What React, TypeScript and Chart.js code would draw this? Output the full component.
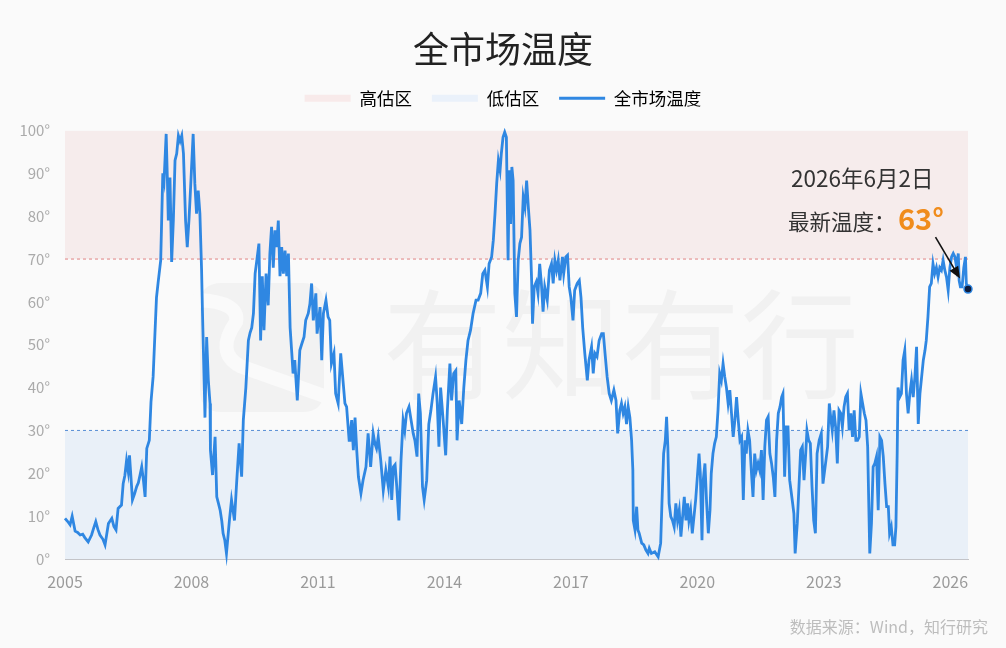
import React, { useEffect, useRef } from 'react';
import { Chart, registerables } from 'chart.js';

Chart.register(...registerables);

const FONT = '"Noto Sans CJK SC", "Noto Sans", sans-serif';

// ---------- text ----------
const chartTitle = '全市场温度';
const seriesName = '全市场温度';
const highZoneName = '高估区';
const lowZoneName = '低估区';
const latestDateLabel = '2026年6月2日';
const latestPrefix = '最新温度：';
const sourceNote = '数据来源：Wind，知行研究';
const watermarkText = '有知有行';

// ---------- scales ----------
const xTickYears = [2005, 2008, 2011, 2014, 2017, 2020, 2023, 2026];
const yTickStep = 10;
const yRange = [0, 100];
const highZone = [70, 100];
const lowZone = [0, 30];

// ---------- series: [decimal year, temperature °] ----------
const temp2005to2008: [number, number][] = [
  [2005.0, 9.5], [2005.06, 8.8], [2005.12, 8], [2005.17, 10], [2005.24, 6.5], [2005.3, 6.2],
  [2005.36, 5.6], [2005.42, 5.8], [2005.47, 5], [2005.55, 4], [2005.63, 5.6], [2005.68, 7.2],
  [2005.73, 8.7], [2005.78, 6.9], [2005.83, 5.6], [2005.9, 4.6], [2005.95, 3.3], [2006.03, 8.3],
  [2006.11, 9.5], [2006.16, 7.6], [2006.21, 6.8], [2006.26, 11.8], [2006.34, 12.6], [2006.38, 17.6],
  [2006.42, 19.5], [2006.46, 23], [2006.5, 20.4], [2006.53, 24.2], [2006.57, 18.3], [2006.6, 13.8],
  [2006.65, 15.2], [2006.7, 16.9], [2006.74, 17.8], [2006.78, 19.6], [2006.82, 21.5], [2006.86, 18.4],
  [2006.9, 14.5], [2006.94, 25.8], [2007.0, 27.7], [2007.04, 36.7], [2007.09, 42.5], [2007.13, 51.8],
  [2007.17, 61], [2007.21, 64.6], [2007.27, 69.7], [2007.32, 90], [2007.35, 88.3], [2007.4, 99.2],
  [2007.43, 88], [2007.45, 79], [2007.49, 89], [2007.53, 69.3], [2007.57, 79], [2007.61, 93],
  [2007.65, 94.6], [2007.69, 98.8], [2007.73, 97.5], [2007.77, 98.8], [2007.81, 94.6], [2007.86, 79],
  [2007.9, 72.8], [2007.94, 79], [2007.98, 86.8], [2008.04, 99.2],
];

const temp2008to2011: [number, number][] = [
  [2008.08, 87.6], [2008.12, 80.6], [2008.16, 86], [2008.2, 80.6], [2008.24, 67.4], [2008.26, 58],
  [2008.3, 41.7], [2008.32, 33], [2008.36, 51.8], [2008.4, 41.7], [2008.44, 36.3], [2008.45, 25.4],
  [2008.5, 19.6], [2008.56, 28.5], [2008.6, 14.5], [2008.64, 13], [2008.68, 11.4], [2008.72, 8.8],
  [2008.75, 6], [2008.79, 4.4], [2008.83, 1.3], [2008.9, 9], [2008.95, 13.8], [2009.02, 9],
  [2009.07, 17.6], [2009.13, 27], [2009.19, 19.2], [2009.23, 32.4], [2009.29, 40], [2009.35, 51],
  [2009.39, 52.8], [2009.43, 54], [2009.47, 57.3], [2009.51, 66.6], [2009.55, 69.7], [2009.6, 73.6],
  [2009.64, 51], [2009.68, 66], [2009.72, 53.4], [2009.77, 66.6], [2009.82, 59.2], [2009.86, 71.3],
  [2009.9, 77.5], [2009.94, 68], [2009.98, 76.7], [2010.02, 72.8], [2010.06, 79], [2010.1, 66],
  [2010.14, 72.8], [2010.18, 66.6], [2010.22, 72], [2010.26, 66], [2010.3, 71.3], [2010.34, 54],
  [2010.38, 48], [2010.41, 43.3], [2010.45, 46.4], [2010.51, 37], [2010.57, 48.7], [2010.61, 50],
  [2010.67, 51.8], [2010.71, 55.7], [2010.77, 57.3], [2010.81, 59.6], [2010.85, 64.3], [2010.89, 55.7],
  [2010.95, 62], [2010.98, 52.6], [2011.05, 58.8], [2011.09, 46.4], [2011.13, 57.3], [2011.19, 60.4],
  [2011.24, 56.5], [2011.28, 55.7], [2011.32, 45.6], [2011.38, 48], [2011.42, 38.6], [2011.48, 36.3],
  [2011.54, 48], [2011.58, 43.3], [2011.64, 36.3], [2011.68, 35.5], [2011.74, 27.7],
];

const temp2011to2015: [number, number][] = [
  [2011.76, 28.5], [2011.8, 32.4], [2011.84, 25.4], [2011.88, 33], [2011.92, 25.4], [2011.96, 19.2],
  [2012.02, 15.3], [2012.07, 18.4], [2012.14, 21.5], [2012.19, 29.3], [2012.25, 21.5], [2012.31, 29.3],
  [2012.35, 27], [2012.39, 25.8], [2012.43, 28.5], [2012.49, 23], [2012.55, 16], [2012.61, 20.7],
  [2012.67, 16.9], [2012.71, 23.9], [2012.75, 13.8], [2012.79, 21.5], [2012.83, 22], [2012.87, 16.9],
  [2012.92, 9], [2012.97, 23], [2013.02, 32.4], [2013.06, 30], [2013.1, 34], [2013.16, 35.5],
  [2013.2, 33], [2013.26, 29.3], [2013.3, 27.7], [2013.35, 23.9], [2013.39, 38.6], [2013.43, 34],
  [2013.48, 16.9], [2013.52, 13.8], [2013.58, 18.4], [2013.63, 31.5], [2013.68, 34.7], [2013.73, 38.6],
  [2013.79, 42.5], [2013.83, 36.3], [2013.87, 26.2], [2013.91, 40], [2013.97, 32.4], [2014.03, 24.2],
  [2014.07, 34.7], [2014.13, 45.6], [2014.17, 37], [2014.22, 43.3], [2014.27, 44], [2014.3, 27.7],
  [2014.35, 37], [2014.41, 31.5], [2014.46, 40], [2014.51, 46.4], [2014.56, 51], [2014.62, 53.4],
  [2014.68, 57.3], [2014.75, 60.4], [2014.8, 60.4], [2014.86, 62], [2014.91, 66.6], [2014.96, 67.4],
  [2015.02, 63.5], [2015.06, 68.9], [2015.12, 70.5], [2015.16, 74.4], [2015.2, 80.6], [2015.24, 87.6],
];

const temp2015to2018: [number, number][] = [
  [2015.28, 93], [2015.32, 90.7], [2015.35, 94.6], [2015.39, 98.4], [2015.43, 99.6], [2015.47, 98.4],
  [2015.51, 69.7], [2015.54, 90.7], [2015.57, 78.2], [2015.6, 91.5], [2015.63, 88.3], [2015.67, 62],
  [2015.71, 56.5], [2015.75, 69.7], [2015.79, 73.6], [2015.83, 75.1], [2015.87, 84.5], [2015.91, 82.2],
  [2015.95, 88.3], [2015.99, 82.2], [2016.03, 76.7], [2016.07, 64.7], [2016.09, 54.9], [2016.13, 63.5],
  [2016.18, 64.7], [2016.22, 62], [2016.26, 68.9], [2016.3, 64.3], [2016.34, 57.7], [2016.38, 63.5],
  [2016.44, 60.4], [2016.49, 67.4], [2016.54, 68.9], [2016.58, 64.3], [2016.62, 69.7], [2016.66, 67.4],
  [2016.7, 69.7], [2016.74, 65], [2016.8, 70.5], [2016.83, 66.6], [2016.88, 70.5], [2016.92, 70.9],
  [2016.96, 63.5], [2017.0, 61], [2017.05, 55.7], [2017.09, 62.7], [2017.15, 64.3], [2017.2, 65],
  [2017.24, 61], [2017.28, 54], [2017.33, 48], [2017.39, 41.7], [2017.43, 46.4], [2017.49, 49.5],
  [2017.53, 43.3], [2017.57, 48], [2017.62, 47.2], [2017.67, 51], [2017.73, 52.6], [2017.77, 52.6],
  [2017.81, 48], [2017.86, 42.5], [2017.91, 38.6], [2017.96, 37], [2018.02, 39.4], [2018.07, 37],
  [2018.11, 29.3], [2018.16, 34.7], [2018.2, 36.3], [2018.24, 34], [2018.28, 35.5], [2018.32, 31.5],
  [2018.36, 35.5], [2018.4, 33], [2018.44, 27.7], [2018.47, 20.7], [2018.48, 9], [2018.52, 6.8],
  [2018.56, 12.2], [2018.59, 6.8], [2018.62, 6], [2018.68, 3.7], [2018.73, 3.3], [2018.78, 2.1],
  [2018.83, 1.3],
];

const temp2018to2022: [number, number][] = [
  [2018.86, 2.5], [2018.91, 1.3], [2018.99, 1.7], [2019.07, 0.5], [2019.13, 3.7], [2019.16, 13],
  [2019.2, 24.6], [2019.24, 27.7], [2019.27, 33.2], [2019.3, 26.2], [2019.33, 13], [2019.37, 9.9],
  [2019.41, 9], [2019.45, 7.5], [2019.49, 13], [2019.53, 9], [2019.57, 11.4], [2019.61, 5.2],
  [2019.65, 9.9], [2019.69, 14.5], [2019.73, 9], [2019.77, 13], [2019.8, 9], [2019.84, 11.4],
  [2019.88, 6], [2019.92, 9.9], [2019.96, 13.8], [2020.0, 19.2], [2020.04, 24.6], [2020.07, 20],
  [2020.11, 4.4], [2020.14, 18.4], [2020.18, 22.3], [2020.22, 13], [2020.26, 6], [2020.3, 11.4],
  [2020.33, 20], [2020.37, 24.6], [2020.41, 27], [2020.45, 28.5], [2020.49, 34.7], [2020.53, 43.3],
  [2020.57, 41.7], [2020.61, 45.6], [2020.65, 42.5], [2020.69, 40], [2020.73, 36.3], [2020.77, 39.4],
  [2020.81, 34], [2020.85, 28.5], [2020.89, 32.4], [2020.93, 37.8], [2020.97, 32.4], [2021.01, 27.7],
  [2021.05, 28.5], [2021.09, 13.8], [2021.13, 27.7], [2021.16, 24.6], [2021.2, 30], [2021.24, 27.7],
  [2021.28, 20.7], [2021.32, 14.5], [2021.36, 24.6], [2021.4, 20.7], [2021.44, 22.3], [2021.48, 20.7],
  [2021.52, 25.4], [2021.56, 13.8], [2021.6, 26.2], [2021.64, 32.4], [2021.68, 33.2], [2021.72, 24.6],
  [2021.76, 22.3], [2021.8, 19.2], [2021.84, 14.5], [2021.88, 27.7], [2021.92, 34], [2021.96, 35.5],
  [2022.0, 37.8], [2022.03, 38.6], [2022.07, 19.2], [2022.11, 30.8], [2022.15, 30.8], [2022.19, 18.4],
];

const temp2022to2026: [number, number][] = [
  [2022.26, 13], [2022.29, 10.6], [2022.32, 1.3], [2022.37, 8.3], [2022.41, 16.9], [2022.45, 25.4],
  [2022.49, 26.2], [2022.53, 18.4], [2022.57, 24.6], [2022.6, 30], [2022.64, 27.7], [2022.68, 27],
  [2022.72, 16.9], [2022.76, 9], [2022.8, 6], [2022.84, 24.6], [2022.89, 27.7], [2022.94, 29.3],
  [2022.98, 17.6], [2023.05, 23], [2023.09, 26.2], [2023.13, 36.3], [2023.17, 32.4], [2023.2, 30],
  [2023.24, 34.7], [2023.28, 30.8], [2023.32, 22.3], [2023.36, 34.7], [2023.4, 34], [2023.44, 30.8],
  [2023.48, 35.5], [2023.52, 37.8], [2023.56, 38.6], [2023.6, 30], [2023.64, 34], [2023.68, 28.5],
  [2023.72, 34.7], [2023.76, 27.7], [2023.8, 27.7], [2023.84, 28.5], [2023.88, 38.6], [2023.92, 36.3],
  [2023.96, 34], [2024.0, 32.4], [2024.04, 26.2], [2024.06, 16], [2024.09, 1.3], [2024.13, 8.3],
  [2024.17, 21.5], [2024.21, 22.3], [2024.25, 23.9], [2024.29, 11.4], [2024.33, 28.5], [2024.37, 27.7],
  [2024.41, 23.9], [2024.45, 17.6], [2024.49, 12.2], [2024.53, 12.2], [2024.56, 6], [2024.6, 7.5],
  [2024.64, 3.3], [2024.68, 3.3], [2024.71, 7.5], [2024.74, 24.6], [2024.76, 40], [2024.8, 37.8],
  [2024.84, 38.6], [2024.88, 46.4], [2024.92, 48.7], [2024.96, 38.6], [2025.0, 34], [2025.04, 38.6],
  [2025.08, 41.7], [2025.12, 37.8], [2025.16, 42.5], [2025.2, 49.5], [2025.24, 31.5], [2025.28, 38.6],
  [2025.32, 42.5], [2025.36, 46.4], [2025.4, 48.7], [2025.43, 51], [2025.47, 56.5], [2025.51, 63.5],
  [2025.55, 64.3], [2025.59, 68.9], [2025.63, 66.6], [2025.67, 68], [2025.71, 65.8], [2025.75, 68],
  [2025.79, 67.4], [2025.83, 69.7], [2025.87, 67.4], [2025.91, 65.8], [2025.95, 62.7], [2025.99, 68],
  [2026.03, 70.5], [2026.07, 71.3], [2026.11, 70.5], [2026.15, 68], [2026.19, 71.3], [2026.21, 65],
  [2026.24, 63.5], [2026.28, 63.5], [2026.32, 68], [2026.36, 70.5], [2026.38, 64.3], [2026.42, 63],
];

const allTemps = [
  ...temp2005to2008, ...temp2008to2011, ...temp2011to2015,
  ...temp2015to2018, ...temp2018to2022, ...temp2022to2026,
];

const COLORS = {
  bg: '#fafafa',
  line: '#2f87e2',
  high: '#f6ecec',
  highLegend: '#f8eaea',
  low: '#e9f0f8',
  lowLegend: '#eaf1fa',
  highDash: 'rgba(222,120,120,0.9)',
  lowDash: 'rgba(70,130,210,0.9)',
  accent: '#f08c1c',
};

const backgroundPlugin = {
  id: 'pageBackground',
  beforeDraw(chart: any) {
    const { ctx, width, height } = chart;
    ctx.save();
    ctx.fillStyle = COLORS.bg;
    ctx.fillRect(0, 0, width, height);
    ctx.restore();
  },
};

const watermarkPlugin = {
  id: 'watermark',
  beforeDatasetsDraw(chart: any) {
    const { ctx } = chart;
    ctx.save();
    // logo
    const lx = 200, ly = 283, lw = 124, lh = 129, r = 22;
    ctx.fillStyle = '#f2f2f2';
    ctx.beginPath();
    ctx.moveTo(lx + r, ly);
    ctx.lineTo(lx + lw - r, ly);
    ctx.quadraticCurveTo(lx + lw, ly, lx + lw, ly + r);
    ctx.lineTo(lx + lw, ly + lh - r);
    ctx.quadraticCurveTo(lx + lw, ly + lh, lx + lw - r, ly + lh);
    ctx.lineTo(lx + r, ly + lh);
    ctx.quadraticCurveTo(lx, ly + lh, lx, ly + lh - r);
    ctx.lineTo(lx, ly + r);
    ctx.quadraticCurveTo(lx, ly, lx + r, ly);
    ctx.closePath();
    ctx.fill();
    ctx.strokeStyle = COLORS.bg;
    ctx.lineWidth = 14;
    ctx.lineCap = 'round';
    ctx.beginPath();
    ctx.moveTo(198, 300);
    ctx.quadraticCurveTo(240, 302, 236, 322);
    ctx.quadraticCurveTo(215, 352, 240, 366);
    ctx.lineTo(330, 398);
    ctx.stroke();
    // text
    ctx.fillStyle = '#f1f1f1';
    ctx.font = `119px ${FONT}`;
    ctx.textAlign = 'left';
    ctx.textBaseline = 'middle';
    ctx.fillText(watermarkText, 383, 345);
    ctx.restore();
  },
};

const annotationPlugin = {
  id: 'latestAnnotation',
  afterDatasetsDraw(chart: any) {
    const { ctx } = chart;
    const meta = chart.getDatasetMeta(0);
    const last = meta.data[meta.data.length - 1];
    if (!last) return;
    const px = last.x, py = last.y;
    const lastValue = allTemps[allTemps.length - 1][1];
    ctx.save();
    ctx.textAlign = 'left';
    ctx.textBaseline = 'middle';
    ctx.fillStyle = '#333';
    ctx.font = `22.5px ${FONT}`;
    ctx.fillText(latestDateLabel, 791, 178);
    ctx.font = `21.5px ${FONT}`;
    ctx.fillText(latestPrefix, 788, 222);
    ctx.fillStyle = COLORS.accent;
    ctx.font = `bold 29px ${FONT}`;
    ctx.fillText(`${Math.round(lastValue)}°`, 898, 219);
    // arrow
    const tx = px - 8, ty = py - 10.5;
    const sx = px - 32.5, sy = py - 52;
    const ang = Math.atan2(ty - sy, tx - sx);
    ctx.strokeStyle = '#111';
    ctx.fillStyle = '#111';
    ctx.lineWidth = 1.6;
    ctx.beginPath();
    ctx.moveTo(sx, sy);
    ctx.lineTo(tx - Math.cos(ang) * 8, ty - Math.sin(ang) * 8);
    ctx.stroke();
    const hl = 12, hw = 5;
    ctx.beginPath();
    ctx.moveTo(tx, ty);
    ctx.lineTo(tx - hl * Math.cos(ang) + hw * Math.sin(ang), ty - hl * Math.sin(ang) - hw * Math.cos(ang));
    ctx.lineTo(tx - hl * Math.cos(ang) - hw * Math.sin(ang), ty - hl * Math.sin(ang) + hw * Math.cos(ang));
    ctx.closePath();
    ctx.fill();
    ctx.restore();
  },
  afterDraw(chart: any) {
    const { ctx } = chart;
    ctx.save();
    ctx.fillStyle = '#bdbdbd';
    ctx.font = `16px ${FONT}`;
    ctx.textAlign = 'right';
    ctx.textBaseline = 'middle';
    ctx.fillText(sourceNote, 988, 627);
    ctx.restore();
  },
};

export default function App() {
  const canvasRef = useRef<HTMLCanvasElement | null>(null);

  useEffect(() => {
    document.body.style.margin = '0';
    document.body.style.background = COLORS.bg;
    const canvas = canvasRef.current;
    if (!canvas) return;
    Chart.defaults.font.family = FONT;

    const xMin = allTemps[0][0];
    const xMax = allTemps[allTemps.length - 1][0];
    const lastIndex = allTemps.length - 1;

    const chart = new Chart(canvas, {
      type: 'line',
      data: {
        datasets: [
          {
            label: seriesName,
            data: allTemps.map(([x, y]) => ({ x, y })),
            borderColor: COLORS.line,
            backgroundColor: COLORS.line,
            borderWidth: 2.8,
            pointRadius: (c: any) => (c.dataIndex === lastIndex ? 4 : 0),
            pointHoverRadius: 0,
            pointBackgroundColor: '#0e1c3c',
            pointBorderColor: COLORS.line,
            pointBorderWidth: 1.5,
            tension: 0,
            fill: false,
            order: 0,
            clip: false,
          } as any,
          {
            label: highZoneName,
            data: [{ x: xMin, y: highZone[0] }, { x: xMax, y: highZone[0] }],
            borderColor: COLORS.highDash,
            borderWidth: 1,
            borderDash: [3, 3],
            backgroundColor: COLORS.high,
            fill: { value: highZone[1] },
            pointRadius: 0,
            order: 2,
          } as any,
          {
            label: lowZoneName,
            data: [{ x: xMin, y: lowZone[1] }, { x: xMax, y: lowZone[1] }],
            borderColor: COLORS.lowDash,
            borderWidth: 1,
            borderDash: [3, 3],
            backgroundColor: COLORS.low,
            fill: { value: lowZone[0] },
            pointRadius: 0,
            order: 1,
          } as any,
        ],
      },
      options: {
        responsive: false,
        animation: false,
        events: [],
        layout: { padding: { left: 0, right: 0, top: 0, bottom: 0 } },
        scales: {
          x: {
            type: 'linear',
            min: xMin,
            max: xMax,
            afterBuildTicks: (scale: any) => {
              scale.ticks = xTickYears.map((v) => ({ value: v }));
            },
            afterFit: (scale: any) => {
              scale.height = 89;
            },
            grid: { display: false },
            border: { display: true, color: '#c3c4c8', width: 1 },
            ticks: {
              autoSkip: false,
              maxRotation: 0,
              padding: 5,
              color: '#9a9a9a',
              font: { size: 16 },
              callback: (v: any) => String(v),
            },
          },
          y: {
            type: 'linear',
            min: yRange[0],
            max: yRange[1],
            afterFit: (scale: any) => {
              scale.width = 65;
            },
            grid: { display: false },
            border: { display: false },
            ticks: {
              stepSize: yTickStep,
              padding: 7,
              color: '#aaaaaa',
              font: { size: 15 },
              callback: (v: any) => `${v}°`,
            },
          },
          yRightSpace: {
            type: 'linear',
            position: 'right',
            display: true,
            afterFit: (scale: any) => {
              scale.width = 38;
            },
            grid: { display: false },
            border: { display: false },
            ticks: { display: false },
          },
        },
        plugins: {
          tooltip: { enabled: false },
          title: {
            display: true,
            text: chartTitle,
            color: '#222',
            font: { size: 36, weight: 'normal', lineHeight: 1.1 },
            padding: { top: 30, bottom: 0 },
          },
          subtitle: {
            display: true,
            text: ' ',
            weight: 500,
            font: { size: 13.4, lineHeight: 1 },
            padding: 0,
          } as any,
          legend: {
            display: true,
            position: 'top',
            labels: {
              usePointStyle: true,
              pointStyleWidth: 46,
              boxHeight: 7,
              padding: 20,
              color: '#555',
              font: { size: 17.5 },
              generateLabels: () => [
                {
                  text: highZoneName, fillStyle: COLORS.highLegend, strokeStyle: COLORS.highLegend,
                  lineWidth: 0, pointStyle: 'rect', hidden: false, datasetIndex: 1,
                },
                {
                  text: lowZoneName, fillStyle: COLORS.lowLegend, strokeStyle: COLORS.lowLegend,
                  lineWidth: 0, pointStyle: 'rect', hidden: false, datasetIndex: 2,
                },
                {
                  text: seriesName, fillStyle: COLORS.line, strokeStyle: COLORS.line,
                  lineWidth: 3, pointStyle: 'line', hidden: false, datasetIndex: 0,
                },
              ] as any,
            },
          },
        },
      } as any,
      plugins: [backgroundPlugin, watermarkPlugin, annotationPlugin],
    });

    return () => chart.destroy();
  }, []);

  return (
    <div style={{ position: 'fixed', left: 0, top: 0, width: 1006, height: 648, background: COLORS.bg }}>
      <canvas ref={canvasRef} width={1006} height={648} style={{ width: 1006, height: 648, display: 'block' }} />
    </div>
  );
}
